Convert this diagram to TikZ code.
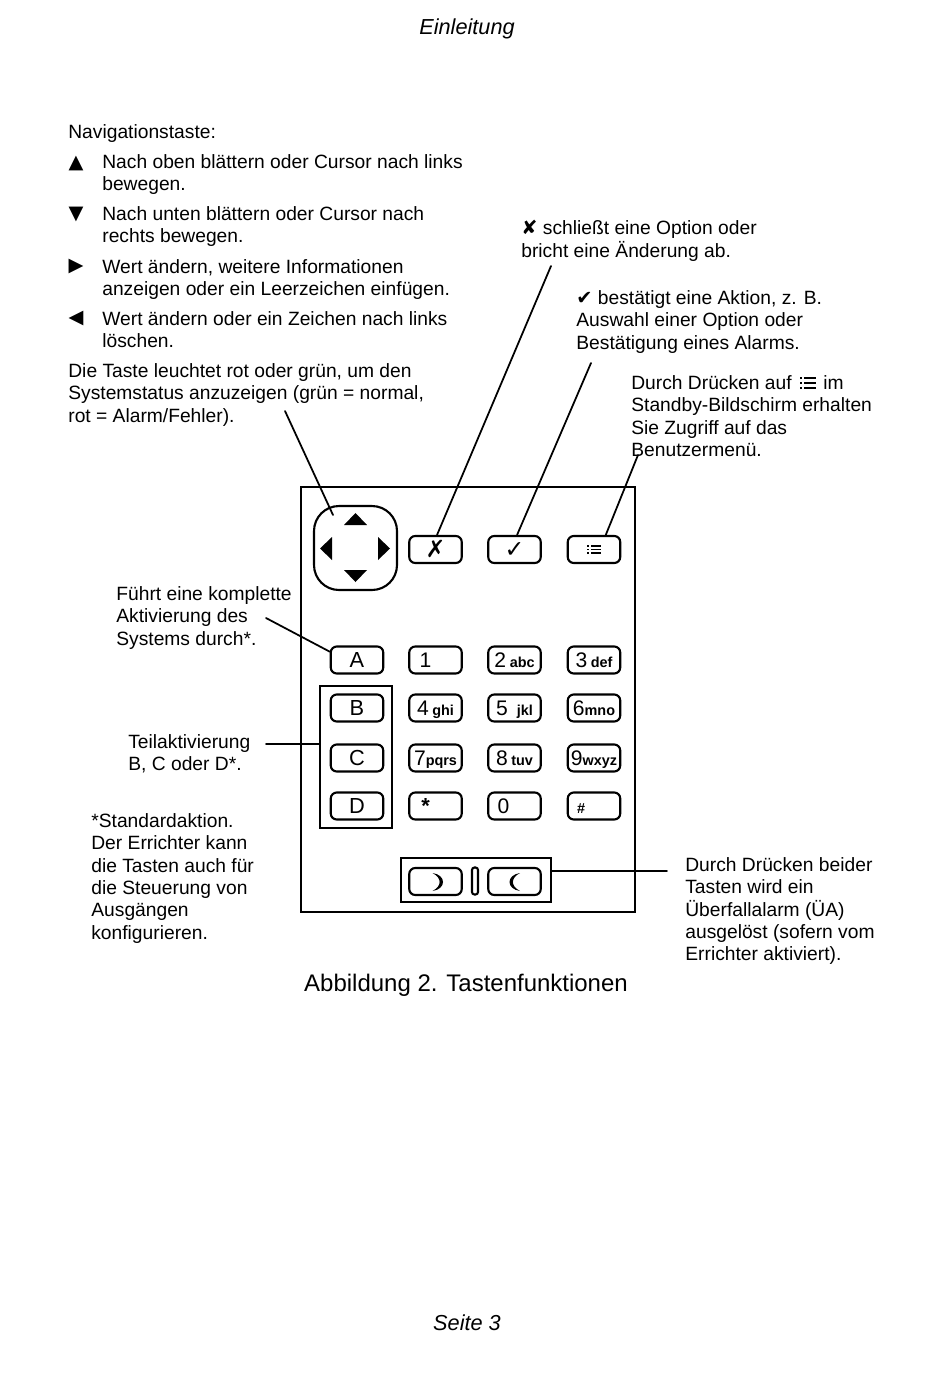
\documentclass[tikz,border=0pt]{standalone}
\usepackage{fontspec}
\setmainfont{Liberation Sans}
\newfontfamily\symfont{DejaVu Sans}
\usetikzlibrary{calc}
\newcommand{\smalltag}[1]{{\fontsize{8.2}{9}\selectfont\bfseries #1}}
\newcommand{\bigdigit}[1]{{\fontsize{12}{12}\selectfont #1}}
\newcommand{\txtsym}[1]{{\fontsize{11}{12.75}\symfont #1}}
\newcommand{\keysym}[1]{{\fontsize{13.5}{14}\symfont\bfseries #1}}

\begin{document}
\begin{tikzpicture}[x=0.02cm, y=-0.02cm, line cap=round,
    txt/.style={anchor=north west, inner sep=0pt, align=left,
                font=\fontsize{10.95}{12.75}\selectfont},
    bullet/.style={inner sep=0pt, font=\fontsize{11}{12}\symfont},
    keybox/.style={draw, rounded corners=0.12cm, minimum width=1.05cm,
                   minimum height=0.54cm, inner sep=0pt, line width=1.2pt,
                   text height=8.6pt, text depth=0pt,
                   font=\fontsize{12.4}{13}\selectfont},
    framebox/.style={draw, inner sep=0pt, line width=1.1pt},
    leader/.style={line width=1pt},
    menuglyph/.pic={
      \fill (-7,-5) rectangle (-5,-3);
      \fill (-7,-1) rectangle (-5,1);
      \fill (-7,3) rectangle (-5,5);
      \fill (-3,-5) rectangle (7,-3);
      \fill (-3,-1) rectangle (7,1);
      \fill (-3,3) rectangle (7,5);
    },
    moonglyph/.pic={
      \fill (-5,-9) .. controls (9,-7) and (9,7) .. (-5,9)
        .. controls (4.5,4) and (4.5,-4) .. cycle;
    }]
    \useasboundingbox (0,0) rectangle (950,1383);

    \node[font=\fontsize{12.35}{14}\selectfont\itshape, inner sep=0pt] (head) at (467,29)
      {Einleitung};
    \node[font=\fontsize{12.35}{14}\selectfont\itshape, inner sep=0pt] (foot) at (467,1323)
      {Seite 3};
    \node[font=\fontsize{13.65}{16}\selectfont, inner sep=0pt] (caption) at (466,985)
      {Abbildung 2. Tastenfunktionen};

    \node[txt] (navhead) at (68,124) {Navigationstaste:};
    \node[bullet] (markup) at (76,163) {▲};
    \node[txt] (uptext) at (102,154)
      {Nach oben blättern oder Cursor nach links\\bewegen.};
    \node[bullet] (markdown) at (76,214) {▼};
    \node[txt] (downtext) at (102,206)
      {Nach unten blättern oder Cursor nach\\rechts bewegen.};
    \node[bullet] (markright) at (76,266) {▶};
    \node[txt] (righttext) at (102,259)
      {Wert ändern, weitere Informationen\\anzeigen oder ein Leerzeichen einfügen.};
    \node[bullet] (markleft) at (76,318) {◀};
    \node[txt] (lefttext) at (102,311)
      {Wert ändern oder ein Zeichen nach links\\löschen.};
    \node[txt] (navtext) at (68,363)
      {Die Taste leuchtet rot oder grün, um den\\Systemstatus anzuzeigen (grün = normal,\\rot = Alarm/Fehler).};

    \node[txt] (closetext) at (521,220)
      {\txtsym{✘} schließt eine Option oder\\bricht eine Änderung ab.};
    \node[txt] (oktext) at (576,290)
      {\txtsym{✔} bestätigt eine Aktion, z. B.\\Auswahl einer Option oder\\Bestätigung eines Alarms.};
    \node[txt] (menutext) at (631,375)
      {Durch Drücken auf \hspace{0.42cm} im\\Standby-Bildschirm erhalten\\Sie Zugriff auf das\\Benutzermenü.};
    \pic[scale=1.2] at (808,383) {menuglyph};

    \node[txt] (fulltext) at (116,586)
      {Führt eine komplette\\Aktivierung des\\Systems durch*.};
    \node[txt] (parttext) at (128,734)
      {Teilaktivierung\\B, C oder D*.};
    \node[txt] (notetext) at (91,813)
      {*Standardaktion.\\Der Errichter kann\\die Tasten auch für\\die Steuerung von\\Ausgängen\\konfigurieren.};
    \node[txt] (panictext) at (685,857)
      {Durch Drücken beider\\Tasten wird ein\\Überfallalarm (ÜA)\\ausgelöst (sofern vom\\Errichter aktiviert).};

    \node[framebox, minimum width=6.68cm, minimum height=8.5cm] (panel) at (468,699.5) {};
    \node[framebox, minimum width=1.44cm, minimum height=2.84cm] (groupbox) at (356,757) {};
    \node[framebox, minimum width=3cm, minimum height=0.88cm] (panicbox) at (476,880) {};

    \node[draw, rounded corners=0.5cm, minimum width=1.66cm, minimum height=1.68cm,
          line width=1.2pt] (navkey) at (355.5,548) {};
    \fill (344,525) -- (367,525) -- (355.5,513) -- cycle;
    \fill (344,570) -- (367,570) -- (355.5,582) -- cycle;
    \fill (332,537) -- (332,560) -- (320,548.5) -- cycle;
    \fill (378,537) -- (378,560) -- (390,548.5) -- cycle;

    \node[keybox] (keyclose) at (435.5,549.5) {\keysym{✗}};
    \node[keybox] (keyok) at (514.5,549.5) {\keysym{✓}};
    \node[keybox] (keymenu) at (594,549.5) {};
    \pic[scale=0.95] at (594,549.5) {menuglyph};

    \node[keybox] (keyA) at (357,660) {A};
    \node[keybox] (key1) at (435.5,660) {\bigdigit{1}\hspace*{0.4cm}};
    \node[keybox] (key2) at (514.5,660) {\bigdigit{2}\,\smalltag{abc}};
    \node[keybox] (key3) at (594,660) {\bigdigit{3}\,\smalltag{def}};

    \node[keybox] (keyB) at (357,708) {B};
    \node[keybox] (key4) at (435.5,708) {\bigdigit{4}\,\smalltag{ghi}};
    \node[keybox] (key5) at (514.5,708) {\bigdigit{5}\hspace{0.18cm}\smalltag{jkl}};
    \node[keybox] (key6) at (594,708) {\bigdigit{6}\smalltag{mno}};

    \node[keybox] (keyC) at (357,758) {C};
    \node[keybox] (key7) at (435.5,758) {\bigdigit{7}\smalltag{pqrs}};
    \node[keybox] (key8) at (514.5,758) {\bigdigit{8}\,\smalltag{tuv}};
    \node[keybox] (key9) at (594,758) {\bigdigit{9}\smalltag{wxyz}};

    \node[keybox] (keyD) at (357,806) {D};
    \node[keybox] (keystar) at (435.5,806) {\textbf{*}\hspace*{0.4cm}};
    \node[keybox] (key0) at (514.5,806) {\bigdigit{0}\hspace*{0.44cm}};
    \node[keybox] (keyhash) at (594,806) {\smalltag{\#}\hspace*{0.52cm}};

    \node[keybox] (keymoonr) at (435.5,881.5) {};
    \pic at (437.5,882) {moonglyph};
    \node[keybox] (keymoonl) at (514.5,881.5) {};
    \pic[xscale=-1] at (515,882) {moonglyph};
    \node[draw, rounded corners=0.05cm, minimum width=0.12cm, minimum height=0.54cm,
          inner sep=0pt, line width=1.2pt] (divider) at (475,881) {};

    \coordinate (navstart) at (285,411);
    \coordinate (navend) at (333,515);
    \coordinate (closestart) at (551,266);
    \coordinate (okstart) at (591,363);
    \coordinate (menustart) at (638,455);
    \coordinate (fullstart) at (266,618);
    \coordinate (partstart) at (266,744);
    \coordinate (panicend) at (667,871);

    \draw[leader] (navstart) -- (navend);
    \draw[leader] (closestart) -- (keyclose.84);
    \draw[leader] (okstart) -- (keyok.80);
    \draw[leader] (menustart) -- (keymenu.51);
    \draw[leader] (fullstart) -- (keyA.163);
    \draw[leader] (partstart) -- (partstart -| groupbox.west);
    \draw[leader] (panicend -| panicbox.east) -- (panicend);
\end{tikzpicture}
\end{document}
